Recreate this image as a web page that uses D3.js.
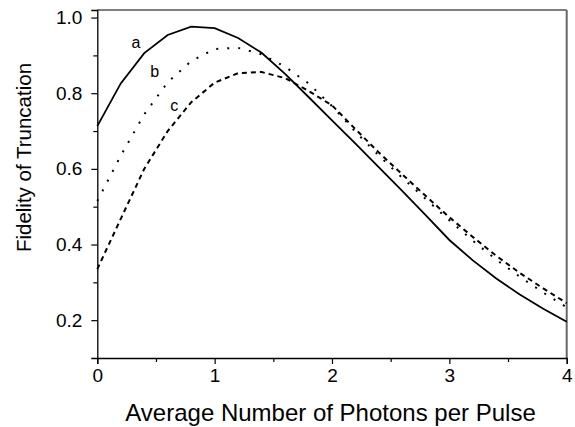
<!DOCTYPE html>
<html><head><meta charset="utf-8">
<script src="https://cdn.jsdelivr.net/npm/d3@7/dist/d3.min.js"></script>
<style>body{margin:0;background:#fff}svg{display:block}text{font-family:"Liberation Sans",Arial,sans-serif;fill:#000}</style>
</head><body>
<script>
const xs = [0,0.2,0.4,0.6,0.8,1.0,1.2,1.4,1.6,1.8,2.0,2.2,2.4,2.6,2.8,3.0,3.2,3.4,3.6,3.8,4.0];
const seriesA = [0.713,0.826,0.906,0.954,0.976,0.972,0.946,0.907,0.851,0.790,0.728,0.667,0.604,0.541,0.477,0.412,0.358,0.310,0.268,0.230,0.196];
const seriesB = [0.515,0.635,0.744,0.829,0.885,0.917,0.920,0.903,0.870,0.826,0.766,0.698,0.635,0.576,0.520,0.464,0.410,0.360,0.315,0.273,0.234];
const seriesC = [0.335,0.468,0.600,0.700,0.776,0.828,0.853,0.856,0.840,0.806,0.768,0.705,0.643,0.585,0.528,0.472,0.420,0.370,0.325,0.284,0.245];
const xTicks = [0,1,2,3,4];
const xMinor = [0.5,1.5,2.5,3.5];
const yTicks = [0.2,0.4,0.6,0.8,1.0];
const yMinor = [0.3,0.5,0.7,0.9];
const labels = [{t:"a",x:0.33,y:0.932},{t:"b",x:0.49,y:0.853},{t:"c",x:0.655,y:0.764}];

const W=575,H=427;
const svg=d3.select("body").append("svg").attr("width",W).attr("height",H);
const x=d3.scaleLinear().domain([0,4]).range([97.3,566.7]);
const y=d3.scaleLinear().domain([0.1,1.02]).range([358,10]);

// frame
svg.append("line").attr("x1",x(0)).attr("x2",x(4)).attr("y1",y(1.02)).attr("y2",y(1.02)).attr("stroke","#000").attr("stroke-width",1.2);
svg.append("line").attr("x1",x(4)).attr("x2",x(4)).attr("y1",y(1.02)).attr("y2",y(0.1)).attr("stroke","#666").attr("stroke-width",2);

const fmt=d3.format(".1f");
const gx=svg.append("g").attr("transform",`translate(0,${y(0.1)})`)
 .call(d3.axisBottom(x).tickValues(xTicks).tickFormat(d3.format("d")).tickSize(6).tickPadding(5));
const gxm=svg.append("g").attr("transform",`translate(0,${y(0.1)})`)
 .call(d3.axisBottom(x).tickValues(xMinor).tickFormat("").tickSize(4));
const gy=svg.append("g").attr("transform",`translate(${x(0)},0)`)
 .call(d3.axisLeft(y).tickValues(yTicks).tickFormat(fmt).tickSize(6).tickPadding(9));
const gym=svg.append("g").attr("transform",`translate(${x(0)},0)`)
 .call(d3.axisLeft(y).tickValues(yMinor).tickFormat("").tickSize(4));
[gx,gxm,gy,gym].forEach(g=>{g.select(".domain").attr("stroke","#000").attr("stroke-width",1.3);g.selectAll(".tick line").attr("stroke","#000").attr("stroke-width",1.2);});
gxm.select(".domain").remove(); gym.select(".domain").remove();
gx.selectAll("text").style("font-size","19px").attr("font-family","Liberation Sans, Arial, sans-serif");
gy.selectAll("text").style("font-size","19px").attr("font-family","Liberation Sans, Arial, sans-serif");

const line=d3.line().x((d,i)=>x(xs[i])).y(d=>y(d));
svg.append("path").datum(seriesA).attr("d",line).attr("fill","none").attr("stroke","#000").attr("stroke-width",1.8);
svg.append("path").datum(seriesB).attr("d",line).attr("fill","none").attr("stroke","#000").attr("stroke-width",2).attr("stroke-dasharray","2,9");
svg.append("path").datum(seriesC).attr("d",line).attr("fill","none").attr("stroke","#000").attr("stroke-width",2).attr("stroke-dasharray","5,4");

svg.selectAll(".lbl").data(labels).enter().append("text")
 .attr("x",d=>x(d.x)).attr("y",d=>y(d.y)).attr("text-anchor","middle").attr("dominant-baseline","middle")
 .style("font-size","16px").text(d=>d.t);

svg.append("text").attr("x",(123+538)/2).attr("y",421).attr("text-anchor","middle").style("font-size","24px").text("Average Number of Photons per Pulse");
svg.append("text").attr("transform",`translate(31,157.5) rotate(-90)`).attr("text-anchor","middle").style("font-size","20.5px").text("Fidelity of Truncation");
</script>
</body></html>
